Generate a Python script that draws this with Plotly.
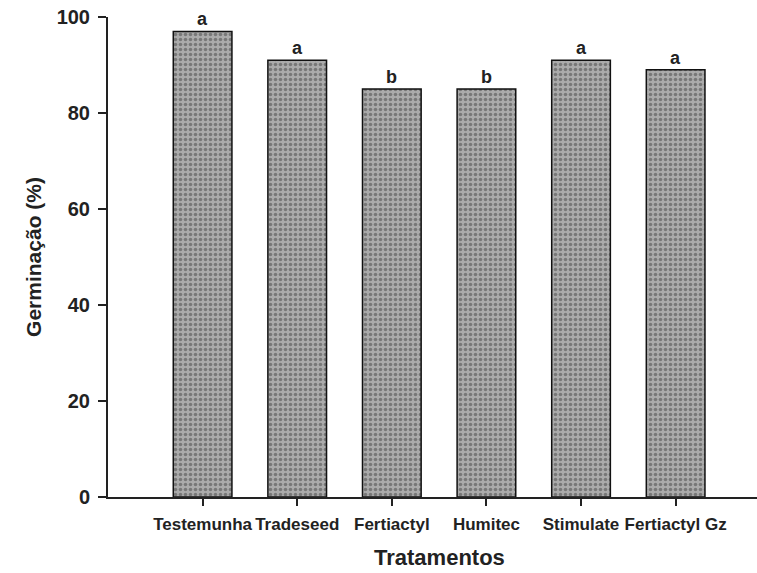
import plotly.graph_objects as go

categories = ["Testemunha", "Tradeseed", "Fertiactyl", "Humitec", "Stimulate", "Fertiactyl Gz"]
germination = [97, 91, 85, 85, 91, 89]
letters = ["a", "a", "b", "b", "a", "a"]
y_ticks = [0, 20, 40, 60, 80, 100]

FONT = "Liberation Sans, Arial, sans-serif"

fig = go.Figure()
fig.add_trace(go.Bar(
    x=list(range(len(categories))),
    y=germination,
    width=0.62,
    marker=dict(
        color="#a0a0a0",
        line=dict(color="#111111", width=1.5),
        pattern=dict(shape=".", fgcolor="#444444", bgcolor="#ababab", size=5, solidity=0.4),
    ),
    hoverinfo="skip",
))

for i, (v, l) in enumerate(zip(germination, letters)):
    fig.add_annotation(x=i, y=v, text=f"<b>{l}</b>", showarrow=False,
                       yanchor="bottom", yshift=0,
                       font=dict(family=FONT, size=18, color="#222"))

fig.add_annotation(x=2.5, y=-0.127, xref="x", yref="paper", yanchor="middle",
                   text="<b>Tratamentos</b>", showarrow=False,
                   font=dict(family=FONT, size=22, color="#222"))

fig.update_layout(
    width=757, height=573,
    margin=dict(l=108, r=0, t=17, b=76),
    plot_bgcolor="white", paper_bgcolor="white",
    showlegend=False,
    xaxis=dict(
        range=[-1.0, 5.86], automargin=False,
        tickmode="array", tickvals=list(range(len(categories))),
        ticktext=[f"<b>{c}</b>" for c in categories],
        ticks="outside", ticklen=7, tickwidth=1.5, tickcolor="#222",
        ticklabelstandoff=4,
        showline=True, linecolor="#222", linewidth=2,
        showgrid=False, zeroline=False,
        tickfont=dict(family=FONT, size=17, color="#222"),
    ),
    yaxis=dict(
        range=[0, 100], automargin=False,
        tickmode="array", tickvals=y_ticks,
        ticktext=[f"<b>{t}</b>" for t in y_ticks],
        ticks="outside", ticklen=8, tickwidth=1.5, tickcolor="#222",
        ticklabelstandoff=4,
        showline=True, linecolor="#222", linewidth=2,
        showgrid=False, zeroline=False,
        tickfont=dict(family=FONT, size=20, color="#222"),
        title=dict(text="<b>Germinação (%)</b>", standoff=9,
                   font=dict(family=FONT, size=21, color="#222")),
    ),
)

fig.write_html("out.html", config={"displayModeBar": False},
               post_script="document.body.style.margin='0';")
